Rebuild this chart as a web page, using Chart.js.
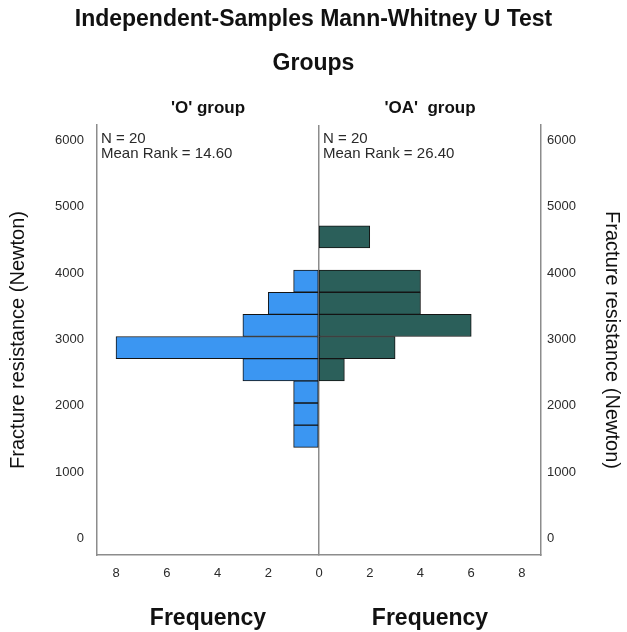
<!DOCTYPE html>
<html>
<head>
<meta charset="utf-8">
<title>Independent-Samples Mann-Whitney U Test</title>
<script src="https://cdn.jsdelivr.net/npm/chart.js@4.4.1/dist/chart.umd.min.js"></script>
<style>
  html, body { margin: 0; padding: 0; background: #fff; }
  #wrap { width: 627px; height: 632px; }
</style>
</head>
<body>
<div id="wrap"><canvas id="chart"></canvas></div>
<script>
// Histogram bins (bin centres, Newton) and counts per group
const binCenters = [1541, 1875, 2210, 2544, 2878, 3212, 3546, 3880, 4214, 4548]
const oCounts = [1, 1, 1, 3, 8, 3, 2, 1, 0, 0]
const oaCounts = [0, 0, 0, 1, 3, 6, 4, 4, 0, 2]

const groupNames = ["'O' group", "'OA'  group"]
const groupN = [20, 20]
const meanRanks = ["14.60", "26.40"]

const yTicks = [0, 1000, 2000, 3000, 4000, 5000, 6000]
const leftFreqTicks = [0, 2, 4, 6, 8]
const rightFreqTicks = [2, 4, 6, 8]

const FONT = "'Liberation Sans', Arial, sans-serif"
const GREY = "#8c8c8c"
const TEXT = "#2a2a2a"

const setTicks = list => scale => { scale.ticks = list.map(v => ({ value: v })) }

// N / mean rank note in the top-left corner of each panel
const panelNotes = {
  id: "panelNotes",
  afterDatasetsDraw(chart) {
    const { ctx, chartArea, scales } = chart
    ctx.save()
    ctx.font = `15px ${FONT}`
    ctx.fillStyle = TEXT
    ctx.textBaseline = "middle"
    ;[scales.xL, scales.xR].forEach((s, i) => {
      ctx.fillText(`N = ${groupN[i]}`, s.left + 4, chartArea.top + 14)
      ctx.fillText(`Mean Rank = ${meanRanks[i]}`, s.left + 4, chartArea.top + 29)
    })
    ctx.restore()
  }
}

const freqAxis = (ticks, reverse) => ({
  type: "linear",
  position: "bottom",
  stack: "freq",
  stackWeight: 1,
  reverse: reverse,
  min: 0,
  max: 8.75,
  afterBuildTicks: setTicks(ticks),
  afterFit: s => { s.height = 77 },
  grid: {
    display: true,
    drawTicks: false,
    color: c => (reverse && c.tick && c.tick.value === 0 ? GREY : "transparent"),
    lineWidth: 1.5,
  },
  border: { display: true, color: GREY, width: 1.5 },
  ticks: { padding: 11, color: TEXT, font: { family: FONT, size: 13 } },
  title: {
    display: true,
    text: "Frequency",
    color: "#111",
    font: { family: FONT, size: 23, weight: "bold" },
    padding: { top: 2, bottom: 0 },
  },
})

const groupAxis = name => ({
  type: "linear",
  display: true,
  position: "top",
  stack: "groups",
  stackWeight: 1,
  min: 0,
  max: 1,
  afterFit: s => { s.height = 43.8 },
  grid: { display: false },
  border: { display: false },
  ticks: { display: false },
  title: {
    display: true,
    text: name,
    color: "#111",
    font: { family: FONT, size: 17, weight: "bold" },
    padding: { top: 16.6, bottom: 0 },
  },
})

const valueAxis = (position, width, tickPad, titlePad) => ({
  type: "linear",
  display: true,
  position: position,
  min: -250,
  max: 6235,
  offset: false,
  afterBuildTicks: setTicks(yTicks),
  afterFit: s => { s.width = width },
  grid: { display: true, drawOnChartArea: false, drawTicks: false, offset: false },
  border: { display: true, color: GREY, width: 1.5 },
  ticks: {
    padding: tickPad,
    color: TEXT,
    font: { family: FONT, size: 13 },
    callback: v => String(v),
  },
  title: {
    display: true,
    text: "Fracture resistance (Newton)",
    color: "#111",
    font: { family: FONT, size: 20 },
    padding: { top: titlePad, bottom: 0 },
  },
})

new Chart(document.getElementById("chart").getContext("2d"), {
  type: "bar",
  data: {
    datasets: [
      {
        label: groupNames[0],
        data: binCenters.map((c, i) => ({ x: oCounts[i], y: c })),
        xAxisID: "xL",
        yAxisID: "y",
        backgroundColor: "#3b96f2",
      },
      {
        label: groupNames[1],
        data: binCenters.map((c, i) => ({ x: oaCounts[i], y: c })),
        xAxisID: "xR",
        yAxisID: "y",
        backgroundColor: "#2b5f5a",
      },
    ],
  },
  options: {
    indexAxis: "y",
    responsive: true,
    maintainAspectRatio: false,
    animation: false,
    layout: { padding: 0 },
    datasets: {
      bar: {
        grouped: false,
        barPercentage: 1,
        categoryPercentage: 1,
        borderColor: "#141414",
        borderWidth: 1,
        borderSkipped: false,
      },
    },
    plugins: {
      legend: { display: false },
      tooltip: { enabled: false },
      title: {
        display: true,
        text: "Independent-Samples Mann-Whitney U Test",
        color: "#111",
        font: { family: FONT, size: 23, weight: "bold" },
        padding: { top: 6, bottom: 10 },
      },
      subtitle: {
        display: true,
        text: "Groups",
        color: "#111",
        font: { family: FONT, size: 23, weight: "bold" },
        padding: { top: 6, bottom: 4 },
      },
    },
    scales: {
      y: valueAxis("left", 97, 13, 6),
      y2: valueAxis("right", 86, 6, 3),
      xL: freqAxis(leftFreqTicks, true),
      xR: freqAxis(rightFreqTicks, false),
      // top boxes are laid out in reverse order, so the right panel label comes first
      xRt: groupAxis(groupNames[1]),
      xLt: groupAxis(groupNames[0]),
    },
  },
  plugins: [panelNotes],
})
</script>
</body>
</html>
